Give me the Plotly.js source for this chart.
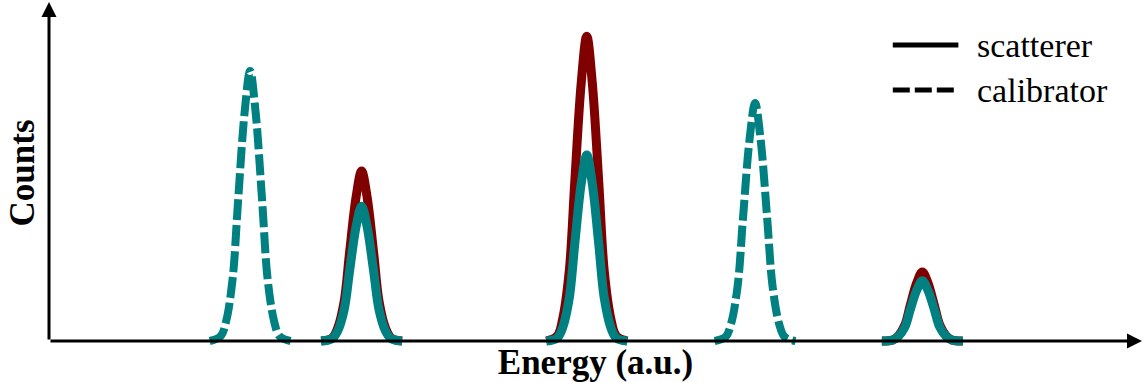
<!DOCTYPE html>
<html>
<head>
<meta charset="utf-8">
<script src="https://cdn.plot.ly/plotly-3.0.1.min.js"></script>
<style>html,body{margin:0;padding:0;background:#fff;}#chart{width:1144px;height:382px;}</style>
</head>
<body>
<div id="chart"></div>
<script>
// Energy (a.u.) sample points; null separates peaks
const scattererEnergy = [
  24.9, 25.9, 26.4, 27.0, 27.5, 28.1, 28.6, 29.1, 29.7, 30.2, 30.8, 31.3, 32.3, null,
  45.5, 46.5, 47.0, 47.6, 48.1, 48.7, 49.2, 49.7, 50.3, 50.8, 51.4, 51.9, 52.9, null,
  76.2, 77.2, 77.7, 78.3, 78.8, 79.4, 79.9, 80.4, 81.0, 81.5, 82.1, 82.6, 83.6
];
// Counts, red (dark) scatterer curve
const scattererRed = [
  0, 0.9, 3.7, 11.6, 26.2, 42.7, 50.3, 42.7, 26.2, 11.6, 3.7, 0.9, 0, null,
  0, 1.5, 6.6, 20.7, 46.9, 76.6, 90.2, 76.6, 46.9, 20.7, 6.6, 1.5, 0, null,
  0, 0.3, 1.5, 4.7, 10.6, 17.3, 20.4, 17.3, 10.6, 4.7, 1.5, 0.3, 0
];
// Counts, teal scatterer curve
const scattererTeal = [
  0, 0.7, 2.9, 9.2, 20.7, 33.9, 39.9, 33.9, 20.7, 9.2, 2.9, 0.7, 0, null,
  0, 0.9, 4.0, 12.7, 28.6, 46.7, 55.0, 46.7, 28.6, 12.7, 4.0, 0.9, 0, null,
  0, 0.3, 1.3, 4.1, 9.3, 15.1, 17.8, 15.1, 9.3, 4.1, 1.3, 0.3, 0
];
// Calibrator peaks
const calibratorEnergy = [
  14.7, 15.7, 16.2, 16.8, 17.3, 17.9, 18.4, 18.9, 19.5, 20.0, 20.6, 21.1, 22.1, null,
  60.9, 61.9, 62.4, 63.0, 63.5, 64.1, 64.6, 65.1, 65.7, 66.2, 66.8, 67.3, 68.3
];
const calibratorCounts = [
  0, 1.4, 5.8, 18.4, 41.5, 67.8, 79.9, 67.8, 41.5, 18.4, 5.8, 1.4, 0, null,
  0, 1.2, 5.1, 16.2, 36.6, 59.8, 70.4, 59.8, 36.6, 16.2, 5.1, 1.2, 0
];
const legendLabels = ['scatterer', 'calibrator'];
const xTitle = 'Energy (a.u.)';
const yTitle = 'Counts';

const RED = '#800000', TEAL = '#008080';
const serif = '"Liberation Serif", "Times New Roman", Times, serif';

const traces = [
  {x: scattererEnergy, y: scattererRed, type: 'scatter', mode: 'lines', name: 'scatterer',
   line: {color: RED, width: 9, shape: 'spline', smoothing: 1}, connectgaps: false, hoverinfo: 'skip'},
  {x: scattererEnergy, y: scattererTeal, type: 'scatter', mode: 'lines', name: 'scatterer',
   line: {color: TEAL, width: 9, shape: 'spline', smoothing: 1}, connectgaps: false, hoverinfo: 'skip'},
  {x: calibratorEnergy, y: calibratorCounts, type: 'scatter', mode: 'lines', name: 'calibrator',
   line: {color: TEAL, width: 8, dash: '21px,5px', shape: 'spline', smoothing: 1}, connectgaps: false, hoverinfo: 'skip'}
];

const layout = {
  width: 1144, height: 382,
  margin: {l: 49, r: 2, t: 0, b: 36},
  paper_bgcolor: '#fff', plot_bgcolor: '#fff',
  showlegend: false,
  font: {family: serif, color: '#000'},
  xaxis: {range: [0, 100], showgrid: false, zeroline: false, showline: false,
    showticklabels: false, ticks: '',
    title: {text: xTitle, font: {family: serif, size: 35, color: '#000', weight: 'bold'}, standoff: 5}},
  yaxis: {range: [-1.48, 100.89], showgrid: false, zeroline: false, showline: false,
    showticklabels: false, ticks: '',
    title: {text: yTitle, font: {family: serif, size: 35, color: '#000', weight: 'bold'}, standoff: 2}},
  shapes: [
    {type: 'line', xref: 'paper', yref: 'paper', x0: 0.772, x1: 0.832, y0: 0.870, y1: 0.870,
     line: {color: '#000', width: 5}},
    {type: 'line', xref: 'paper', yref: 'paper', x0: 0.772, x1: 0.832, y0: 0.740, y1: 0.740,
     line: {color: '#000', width: 5, dash: '17px,5px'}}
  ],
  annotations: [
    {x: 100, y: 0, xref: 'x', yref: 'y', ax: 0, ay: 0, axref: 'x', ayref: 'y', text: '',
     showarrow: true, arrowhead: 2, arrowsize: 1, arrowwidth: 3, arrowcolor: '#000', standoff: 0, startstandoff: 0},
    {x: 0, y: 100.3, xref: 'x', yref: 'y', ax: 0, ay: 0, axref: 'x', ayref: 'y', text: '',
     showarrow: true, arrowhead: 2, arrowsize: 1, arrowwidth: 3, arrowcolor: '#000', standoff: 0, startstandoff: 0},
    {x: 0.847, y: 0.868, xref: 'paper', yref: 'paper', xanchor: 'left', yanchor: 'middle',
     text: legendLabels[0], showarrow: false, font: {family: serif, size: 34, color: '#000'}},
    {x: 0.847, y: 0.738, xref: 'paper', yref: 'paper', xanchor: 'left', yanchor: 'middle',
     text: legendLabels[1], showarrow: false, font: {family: serif, size: 34, color: '#000'}}
  ]
};

Plotly.newPlot('chart', traces, layout, {staticPlot: true, displayModeBar: false});
</script>
</body>
</html>
